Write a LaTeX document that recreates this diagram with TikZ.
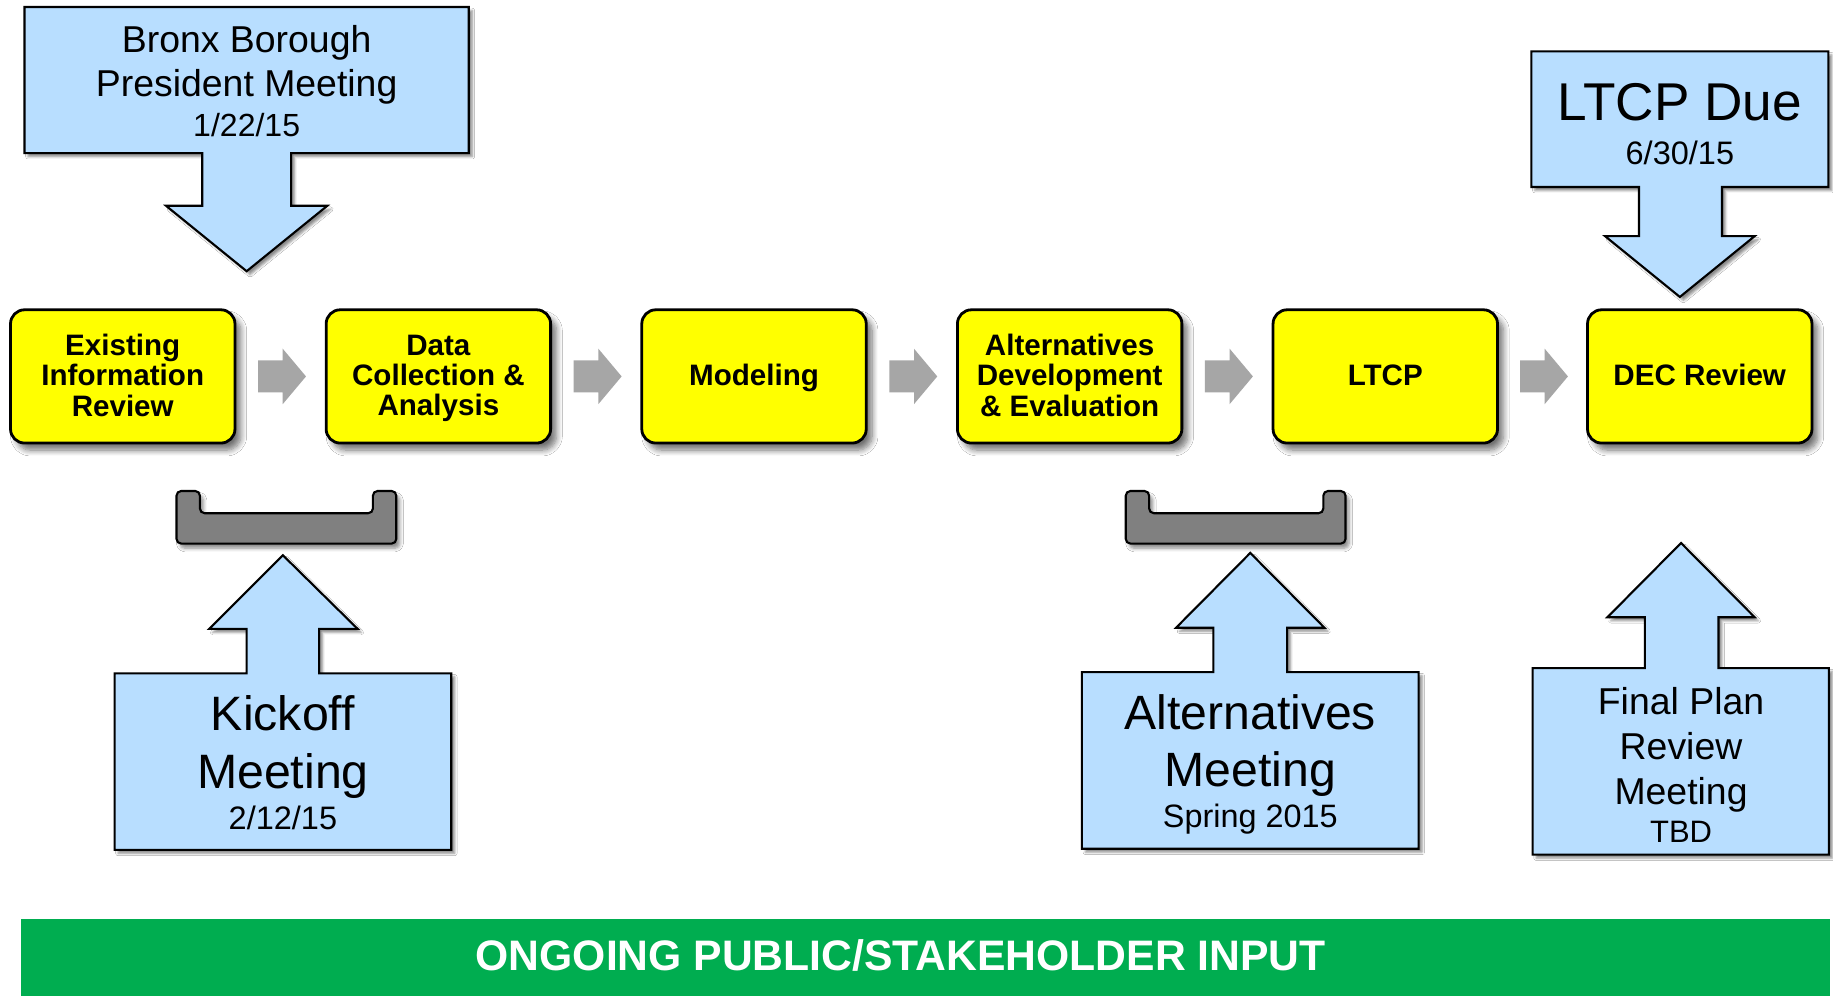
\documentclass[tikz,border=0pt]{standalone}
\usepackage{fontspec}
\setmainfont{Liberation Sans}
\usetikzlibrary{shadows.blur,shapes.arrows,calc}
\definecolor{boxyellow}{RGB}{255,255,0}
\definecolor{boxblue}{RGB}{184,222,255}
\definecolor{arrowgray}{RGB}{166,166,166}
\definecolor{bracketgray}{RGB}{128,128,128}
\definecolor{bargreen}{RGB}{0,173,80}
\begin{document}
\begin{tikzpicture}[x=1pt,y=-1pt,
  stage/.style={draw=black, line width=2.4pt, fill=boxyellow, rounded corners=12pt,
    minimum width=192pt, minimum height=114pt, align=center, inner sep=0pt, text depth=2pt,
    font=\fontsize{25.3}{26}\selectfont\bfseries,
    blur shadow={shadow xshift=5pt, shadow yshift=-6pt, shadow blur radius=5pt, shadow blur steps=8, shadow opacity=55}},
  flowarrow/.style={single arrow, fill=arrowgray, draw=none, minimum height=41pt,
    single arrow head extend=10pt, single arrow tip angle=100, inner sep=0pt, xshift=-4.5pt},
  callout/.style={draw=black, line width=1.8pt, fill=boxblue, line join=miter,
    blur shadow={shadow xshift=3pt, shadow yshift=-3pt, shadow blur radius=2pt, shadow blur steps=4, shadow opacity=45}},
  bracket/.style={draw=black, line width=1.8pt, fill=bracketgray, rounded corners=4pt,
    blur shadow={shadow xshift=3pt, shadow yshift=-4pt, shadow blur radius=3pt, shadow blur steps=5, shadow opacity=45}},
  calltext/.style={align=center, inner sep=0pt}
]
\useasboundingbox (0,0) rectangle (1568,852);
\fill[white] (0,0) rectangle (1568,852);

% process stages
\node[stage] (s1) at (105,322) {Existing\\Information\\Review};
\node[stage] (s2) at (375,322) {Data\\Collection \&\\Analysis};
\node[stage] (s3) at (645,322) {Modeling};
\node[stage] (s4) at (915,322) {Alternatives\\Development\\\& Evaluation};
\node[stage] (s5) at (1185,322) {LTCP};
\node[stage] (s6) at (1454,322) {DEC Review};

% block arrows between stages
\node[flowarrow] (a12) at ($(s1.east)!0.5!(s2.west)$) {\rule{0pt}{27pt}};
\node[flowarrow] (a23) at ($(s2.east)!0.5!(s3.west)$) {\rule{0pt}{27pt}};
\node[flowarrow] (a34) at ($(s3.east)!0.5!(s4.west)$) {\rule{0pt}{27pt}};
\node[flowarrow] (a45) at ($(s4.east)!0.5!(s5.west)$) {\rule{0pt}{27pt}};
\node[flowarrow] (a56) at ($(s5.east)!0.5!(s6.west)$) {\rule{0pt}{27pt}};

% brackets
\path[bracket] (151,420) -- (151,465) -- (339,465) -- (339,420) -- (319,420) -- (319,439) -- (171,439) -- (171,420) -- cycle;
\path[bracket] (963,420) -- (963,465) -- (1151,465) -- (1151,420) -- (1132,420) -- (1132,439) -- (983,439) -- (983,420) -- cycle;

% Bronx Borough President Meeting
\path[callout] (21,6) -- (401,6) -- (401,131) -- (249,131) -- (249,176) -- (280,176) -- (211,232) -- (142,176) -- (173,176) -- (173,131) -- (21,131) -- cycle;
\node[calltext, font=\fontsize{32}{38}\selectfont] (bronx) at (211,69.5)
  {Bronx Borough\\President Meeting\\[-4pt]{\fontsize{27.4}{30}\selectfont 1/22/15}};

% LTCP Due
\path[callout] (1310,44) -- (1564,44) -- (1564,160) -- (1473,160) -- (1473,202) -- (1501,202) -- (1437,254) -- (1373,202) -- (1402,202) -- (1402,160) -- (1310,160) -- cycle;
\node[calltext, font=\fontsize{45.5}{50}\selectfont] (ltcpdue) at (1437,106)
  {LTCP Due\\[-12.6pt]{\fontsize{27.8}{30}\selectfont 6/30/15}};

% Kickoff Meeting
\path[callout] (98,576) -- (211,576) -- (211,538) -- (179,538) -- (242,475) -- (306,538) -- (273,538) -- (273,576) -- (386,576) -- (386,727) -- (98,727) -- cycle;
\node[calltext, font=\fontsize{41.3}{50}\selectfont] (kickoff) at (242,652.5)
  {Kickoff\\Meeting\\[-15pt]{\fontsize{27.8}{30}\selectfont 2/12/15}};

% Alternatives Meeting
\path[callout] (925.5,575) -- (1038,575) -- (1038,537) -- (1006,537) -- (1069.5,473) -- (1133,537) -- (1101,537) -- (1101,575) -- (1213.5,575) -- (1213.5,726) -- (925.5,726) -- cycle;
\node[calltext, font=\fontsize{41.2}{49}\selectfont] (altmeet) at (1069.5,654)
  {Alternatives\\Meeting\\[-14pt]{\fontsize{27.7}{30}\selectfont Spring 2015}};

% Final Plan Review Meeting
\path[callout] (1311,571.5) -- (1407,571.5) -- (1407,528) -- (1375,528) -- (1438,464.5) -- (1501,528) -- (1470,528) -- (1470,571.5) -- (1564.5,571.5) -- (1564.5,731) -- (1311,731) -- cycle;
\node[calltext, font=\fontsize{32}{38.5}\selectfont] (finalplan) at (1438,654.5)
  {Final Plan\\Review\\Meeting\\[-5.5pt]{\fontsize{26.5}{30}\selectfont TBD}};

% ongoing input bar
\node[fill=bargreen, draw=none, minimum width=1547pt, minimum height=66pt, inner sep=0pt] (bar) at (791.5,819) {};
\node[text=white, font=\fontsize{36.5}{40}\selectfont\bfseries, inner sep=0pt] (input) at (770.5,817) {ONGOING PUBLIC/STAKEHOLDER INPUT};
\end{tikzpicture}
\end{document}
